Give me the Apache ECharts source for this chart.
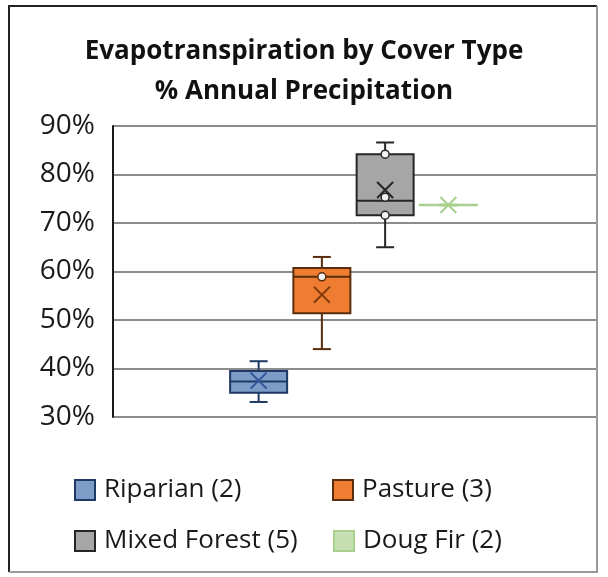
<!DOCTYPE html>
<html>
<head>
<meta charset="utf-8">
<script src="https://cdn.jsdelivr.net/npm/echarts@6/dist/echarts.min.js"></script>
<style>
  html, body { margin: 0; padding: 0; background: #fff; }
  #chart { width: 608px; height: 577px; }
</style>
</head>
<body>
<div id="chart"></div>
<script>
// cover types, one box each
const coverTypes = ['Riparian', 'Pasture', 'Mixed Forest', 'Doug Fir']
const legendNames = ['Riparian (2)', 'Pasture (3)', 'Mixed Forest (5)', 'Doug Fir (2)']
// [min, Q1, median, Q3, max] in %
const boxStats = [
  [33.1, 35.0, 37.3, 39.5, 41.5],
  [44.0, 51.4, 58.9, 60.7, 63.0],
  [65.0, 71.6, 74.6, 84.2, 86.6],
  [73.6, 73.65, 73.7, 73.75, 73.8]
]
const meanValues = [37.5, 55.2, 76.8, 73.7]
// inner points drawn as circles
const innerPoints = [
  [],
  [58.9],
  [84.2, 75.3, 71.6],
  []
]
const yTicks = { min: 30, max: 90, interval: 10 }

const fills = ['#7e9cc8', '#ee7d31', '#a6a6a6', '#c6e0b4']
const borders = ['#1f3864', '#5a2d0c', '#262626', '#a9d08e']
const markColors = ['#2f5597', '#843c0c', '#262626', '#a9d08e']

const chart = echarts.init(document.getElementById('chart'))

const FONT = 'Open Sans'
const CAP = 9 // half width of whisker caps

// whiskers with short caps (boxplot's own caps span the whole box)
const whiskerSeries = {
  type: 'custom',
  xAxisIndex: 1,
  yAxisIndex: 1,
  encode: { x: 0, y: [1, 2, 3, 4] },
  data: coverTypes.map((c, i) => [c, boxStats[i][0], boxStats[i][1], boxStats[i][3], boxStats[i][4]]),
  renderItem: (params, api) => {
    const idx = params.dataIndex
    const lo = api.coord([api.value(0), api.value(1)])
    const q1 = api.coord([api.value(0), api.value(2)])
    const q3 = api.coord([api.value(0), api.value(3)])
    const hi = api.coord([api.value(0), api.value(4)])
    const x = lo[0]
    const style = { stroke: borders[idx], lineWidth: 2 }
    const line = (x1, y1, x2, y2) => ({ type: 'line', shape: { x1, y1, x2, y2 }, style })
    return {
      type: 'group',
      children: [
        line(x, q3[1], x, hi[1]),
        line(x - CAP, hi[1], x + CAP, hi[1]),
        line(x, q1[1], x, lo[1]),
        line(x - CAP, lo[1], x + CAP, lo[1])
      ]
    }
  },
  silent: true,
  z: 1
}

// a single boxplot series, so ECharts doesn't offset boxes per series;
// whiskers collapsed onto the box edges
const series = [whiskerSeries, {
  type: 'boxplot',
  xAxisIndex: 1,
  yAxisIndex: 1,
  boxWidth: [57, 57],
  encode: { x: 0, y: [1, 2, 3, 4, 5] },
  data: coverTypes.map((c, i) => ({
    value: [c, boxStats[i][1], boxStats[i][1], boxStats[i][2], boxStats[i][3], boxStats[i][3]],
    itemStyle: {
      color: fills[i],
      borderColor: borders[i],
      borderWidth: 2
    }
  })),
  emphasis: { disabled: true },
  silent: true,
  z: 2
}]

// mean markers carry the legend names
coverTypes.forEach((c, i) => {
  series.push({
    name: legendNames[i],
    type: 'scatter',
    xAxisIndex: 1,
    yAxisIndex: 1,
    symbol: 'path://M0 0L10 10M10 0L0 10',
    symbolSize: 16,
    data: [[c, meanValues[i]]],
    itemStyle: {
      color: 'transparent',
      borderColor: markColors[i],
      borderWidth: 2,
      opacity: 1
    },
    silent: true,
    z: 4
  })
  if (innerPoints[i].length) {
    series.push({
      type: 'scatter',
      xAxisIndex: 1,
      yAxisIndex: 1,
      symbol: 'circle',
      symbolSize: 8,
      data: innerPoints[i].map(v => [c, v]),
      itemStyle: {
        color: '#f2f2f2',
        borderColor: borders[i],
        borderWidth: 1.5,
        opacity: 1
      },
      silent: true,
      z: 5
    })
  }
})

// one legend per item so each can sit in its own spot
const legendPos = [[69, 472], [327, 472], [69, 523], [328, 523]]
const legends = legendNames.map((n, i) => ({
  left: legendPos[i][0],
  top: legendPos[i][1],
  data: [n],
  icon: 'rect',
  itemWidth: 20,
  itemHeight: 20,
  selectedMode: false,
  itemStyle: {
    color: fills[i],
    borderColor: borders[i],
    borderWidth: 2,
    opacity: 1
  },
  textStyle: {
    fontFamily: FONT,
    fontSize: 26,
    lineHeight: 20,
    color: '#1a1a1a',
    padding: [0, 0, 0, 4]
  }
}))

const option = {
  backgroundColor: '#fff',
  animation: false,
  title: {
    text: 'Evapotranspiration by Cover Type\n% Annual Precipitation',
    left: 'center',
    top: 27,
    textStyle: {
      fontFamily: FONT,
      fontSize: 26,
      fontWeight: 'bold',
      lineHeight: 40,
      color: '#111'
    }
  },
  legend: legends,
  grid: [
    { left: 113, right: 12, top: 126, bottom: 160 },
    { left: 227, width: 253, top: 126, bottom: 160 }
  ],
  xAxis: [
    {
      type: 'category',
      gridIndex: 0,
      data: [''],
      axisLine: { show: false },
      axisTick: { show: false },
      axisLabel: { show: false }
    },
    {
      type: 'category',
      gridIndex: 1,
      data: coverTypes,
      axisLine: { show: false },
      axisTick: { show: false },
      axisLabel: { show: false }
    }
  ],
  yAxis: [
    {
      type: 'value',
      gridIndex: 0,
      min: yTicks.min,
      max: yTicks.max,
      interval: yTicks.interval,
      axisLine: { show: true, lineStyle: { color: '#1a1a1a', width: 2 } },
      axisTick: { show: false },
      axisLabel: {
        formatter: '{value}%',
        fontFamily: FONT,
        fontSize: 28,
        color: '#1a1a1a',
        margin: 18
      },
      splitLine: { lineStyle: { color: '#8c8c8c', width: 2 } }
    },
    {
      type: 'value',
      gridIndex: 1,
      min: yTicks.min,
      max: yTicks.max,
      interval: yTicks.interval,
      axisLine: { show: false },
      axisTick: { show: false },
      axisLabel: { show: false },
      splitLine: { show: false }
    }
  ],
  graphic: [
    {
      type: 'polyline',
      shape: { points: [[9, 572], [9, 6], [597, 6]] },
      style: { stroke: '#222', lineWidth: 2, fill: null },
      z: 10
    },
    {
      type: 'polyline',
      shape: { points: [[597, 6], [597, 572], [9, 572]] },
      style: { stroke: '#9a9a9a', lineWidth: 2, fill: null },
      z: 10
    }
  ],
  series: series
}

chart.setOption(option)
</script>
</body>
</html>
